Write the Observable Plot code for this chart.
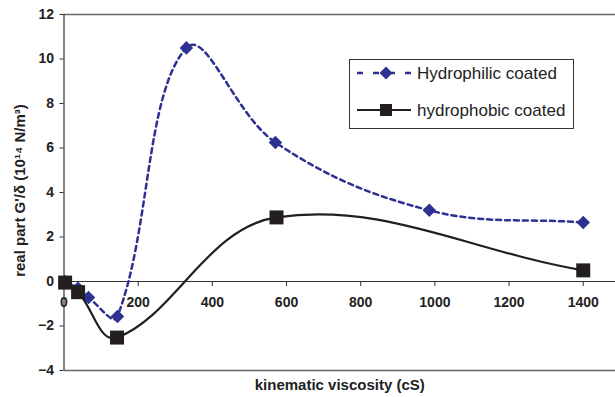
<!DOCTYPE html>
<html>
<head>
<meta charset="utf-8">
<script src="https://cdn.jsdelivr.net/npm/d3@7"></script>
<script src="https://cdn.jsdelivr.net/npm/@observablehq/plot@0.6"></script>
<style>
  html, body { margin: 0; padding: 0; background: #fff; }
  #chart { position: relative; width: 615px; height: 397px; }
</style>
</head>
<body>
<div id="chart"></div>
<script>
// ---- data ----
const xTicks = [0, 200, 400, 600, 800, 1000, 1200, 1400];
const yTicks = [-4, -2, 0, 2, 4, 6, 8, 10, 12];

const hydrophilicX = [3, 38, 66, 144, 330, 570, 985, 1400];
const hydrophilicY = [0, -0.3, -0.72, -1.57, 10.5, 6.25, 3.2, 2.65];

const hydrophobicX = [3, 38, 143, 573, 1400];
const hydrophobicY = [-0.05, -0.48, -2.52, 2.88, 0.5];

const seriesNames = ["Hydrophilic coated", "hydrophobic coated"];
const xLabel = "kinematic viscosity (cS)";
const yLabel = "real part G'/δ (10¹⁴ N/m³)";

const blue = "#2e3192";
const black = "#231f20";
const font = "'Liberation Sans', Arial, sans-serif";

const philic = hydrophilicX.map((x, i) => ({x, y: hydrophilicY[i]}));
const phobic = hydrophobicX.map((x, i) => ({x, y: hydrophobicY[i]}));

// Spreadsheet-style smoothed line: Bezier segments whose tangents are
// weighted by neighbouring segment lengths.
function SmoothCurve(context) { this._context = context; }
SmoothCurve.prototype = {
  areaStart() {}, areaEnd() {},
  lineStart() { this._pts = []; },
  point(x, y) { this._pts.push([+x, +y]); },
  lineEnd() {
    const p = this._pts, n = p.length, c = this._context;
    if (!n) return;
    c.moveTo(p[0][0], p[0][1]);
    const dist = (a, b) => Math.hypot(b[0] - a[0], b[1] - a[1]);
    const k = 0.38;
    for (let i = 0; i < n - 1; i++) {
      const P0 = p[i - 1] || p[i], P1 = p[i], P2 = p[i + 1], P3 = p[i + 2] || p[i + 1];
      const d01 = dist(P0, P1), d12 = dist(P1, P2), d23 = dist(P2, P3);
      const w1 = d01 + d12 > 0 ? d12 / (d01 + d12) : 0;
      const w2 = d12 + d23 > 0 ? d12 / (d12 + d23) : 0;
      const c1 = [P1[0] + (P2[0] - P0[0]) * w1 * k, P1[1] + (P2[1] - P0[1]) * w1 * k];
      const c2 = [P2[0] - (P3[0] - P1[0]) * w2 * k, P2[1] - (P3[1] - P1[1]) * w2 * k];
      c.bezierCurveTo(c1[0], c1[1], c2[0], c2[1], P2[0], P2[1]);
    }
  }
};
const smooth = (context) => new SmoothCurve(context);

const diamond = {
  draw(context, size) {
    const h = Math.sqrt(size / 2);
    context.moveTo(0, -h);
    context.lineTo(h, 0);
    context.lineTo(0, h);
    context.lineTo(-h, 0);
    context.closePath();
  }
};

const plot = Plot.plot({
  width: 615,
  height: 397,
  marginLeft: 63.5,
  marginRight: 0,
  marginTop: 14,
  marginBottom: 27,
  style: {background: "#fff", fontFamily: font, overflow: "visible"},
  x: {domain: [0, 1487], axis: null},
  y: {domain: [-4, 12], axis: null},
  marks: [
    Plot.ruleY([12, -4], {stroke: "#666", strokeWidth: 1.3}),
    Plot.ruleY([0], {stroke: "#333", strokeWidth: 1}),
    Plot.ruleX(xTicks, {x: d => d, y1: () => 0, y2: () => 0, insetBottom: -5, stroke: "#333", strokeWidth: 1}),
    Plot.text(xTicks, {x: d => d, y: () => 0, text: d => String(d), dy: 21, fontSize: 14, fontWeight: "bold", fill: "#222"}),
    Plot.axisY({ticks: yTicks, tickSize: 4, tickPadding: 6, fontSize: 14, fontWeight: "bold", label: null, stroke: "#333", color: "#222"}),
    Plot.ruleX([0], {stroke: "#333", strokeWidth: 1.2}),
    Plot.text([yLabel], {frameAnchor: "left", textAnchor: "middle", lineAnchor: "middle", dx: -43.5, dy: -2, rotate: -90, fontSize: 15, fontWeight: "bold", fill: "#222"}),
    Plot.text([xLabel], {frameAnchor: "bottom", textAnchor: "middle", lineAnchor: "middle", dy: 15, fontSize: 15, fontWeight: "bold", fill: "#222"}),
    Plot.line(philic, {x: "x", y: "y", curve: smooth, stroke: blue, strokeWidth: 2.5, strokeDasharray: "5,4"}),
    Plot.dot(philic, {x: "x", y: "y", symbol: diamond, r: 5.4, fill: blue, stroke: "none"}),
    Plot.line(phobic, {x: "x", y: "y", curve: smooth, stroke: black, strokeWidth: 2.2}),
    Plot.dot(phobic, {x: "x", y: "y", symbol: "square", r: 7.9, fill: black, stroke: "none"})
  ]
});

document.getElementById("chart").appendChild(plot);

// ---- legend ----
const svg = d3.select(plot);
const lg = svg.append("g").attr("font-family", font).attr("text-anchor", "start");
lg.append("rect").attr("x", 349.5).attr("y", 59.5).attr("width", 224).attr("height", 69)
  .attr("fill", "#fff").attr("stroke", "#333").attr("stroke-width", 1);
// row 1
lg.append("line").attr("x1", 357).attr("x2", 411).attr("y1", 73).attr("y2", 73)
  .attr("stroke", blue).attr("stroke-width", 2.5).attr("stroke-dasharray", "6,10");
lg.append("path").attr("d", "M386,66.5L392.5,73L386,79.5L379.5,73Z").attr("fill", blue);
lg.append("text").attr("x", 417).attr("y", 73).attr("dy", "0.35em").attr("font-size", 17).attr("fill", "#222").text(seriesNames[0]);
// row 2
lg.append("line").attr("x1", 357).attr("x2", 411).attr("y1", 110).attr("y2", 110)
  .attr("stroke", black).attr("stroke-width", 2.2);
lg.append("rect").attr("x", 380).attr("y", 104).attr("width", 12).attr("height", 12).attr("fill", black);
lg.append("text").attr("x", 417).attr("y", 110).attr("dy", "0.35em").attr("font-size", 17).attr("fill", "#222").text(seriesNames[1]);
</script>
</body>
</html>
